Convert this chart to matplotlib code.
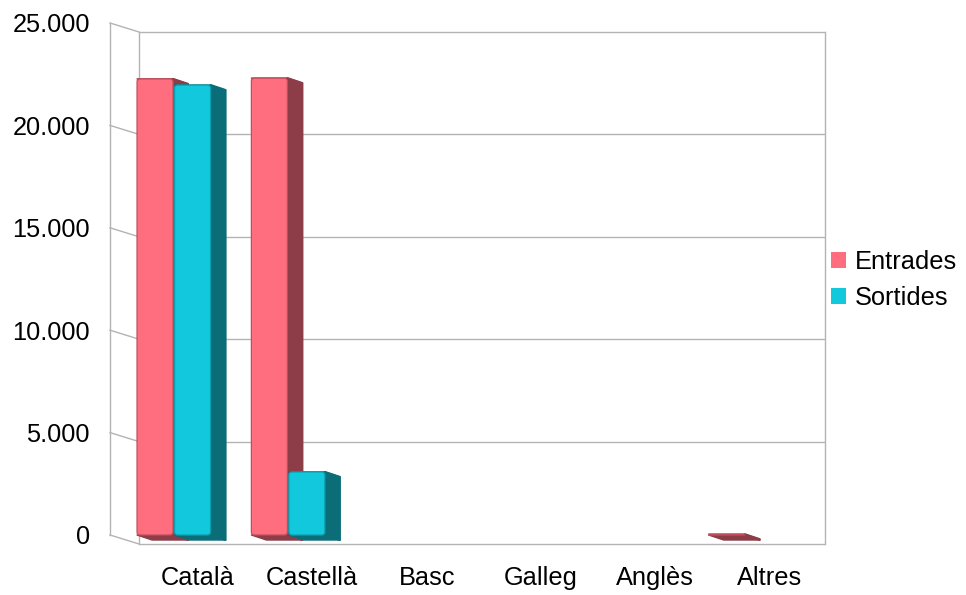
import numpy as np
import matplotlib
matplotlib.use("Agg")
import matplotlib.pyplot as plt
from matplotlib.patches import Polygon, Patch, FancyBboxPatch

plt.rcParams['font.family'] = ['Liberation Sans', 'DejaVu Sans']

categories = ["Català", "Castellà", "Basc", "Galleg", "Anglès", "Altres"]
entrades = [22270, 22310, 0, 0, 0, 40]
sortides = [21970, 3080, 0, 0, 0, 0]
series_names = ["Entrades", "Sortides"]
yticks = [0, 5000, 10000, 15000, 20000, 25000]
ytick_labels = ["0", "5.000", "10.000", "15.000", "20.000", "25.000"]

front_colors = ["#ff6e7e", "#12c8dc"]
side_colors = ["#8c3d48", "#0a6d78"]
edge_colors = ["#c24e5c", "#0b9fae"]

W, H = 966, 595
fig = plt.figure(figsize=(W / 100, H / 100), dpi=100)

# front plane of the pseudo-3D box, in pixels
left_px, right_px = 110, 796
top_px, bot_px = 23, 535
ax = fig.add_axes([left_px / W, 1 - bot_px / H,
                   (right_px - left_px) / W, (bot_px - top_px) / H])
x0, x1 = -0.56, 5.44
ax.set_xlim(x0, x1)
ax.set_ylim(0, 25000)
for sp in ax.spines.values():
    sp.set_visible(False)
ax.set_xticks([])
ax.set_yticks(yticks)
ax.set_yticklabels(ytick_labels)
ax.tick_params(axis='y', length=0, pad=14.4, labelsize=18.3)

px_x = (right_px - left_px) / (x1 - x0)
px_y = (bot_px - top_px) / 25000.0

# depth of the walls and of the bars (right and down)
bdx, bdy = 29 / px_x, -9 / px_y
ddx, ddy = 15 / px_x, -5 / px_y

grid_kw = dict(color="#b3b3b3", lw=1.0, clip_on=False, zorder=1)

# back wall with grid
ax.hlines([v + bdy for v in yticks], x0 + bdx, x1 + bdx, **grid_kw)
ax.plot([x0 + bdx, x0 + bdx], [bdy, 25000 + bdy], **grid_kw)
ax.plot([x1 + bdx, x1 + bdx], [bdy, 25000 + bdy], **grid_kw)
# left wall
ax.plot([x0, x0], [0, 25000], **grid_kw)
for v in yticks:
    ax.plot([x0, x0 + bdx], [v, v + bdy], **grid_kw)

# bars: bottom/top and side faces as polygons, front face rounded
x = np.arange(len(categories))
offsets = [-0.166, 0.162]
width = 0.315
radius = 3 / px_x
aspect = px_x / px_y
for s, vals in enumerate([entrades, sortides]):
    vals = np.array(vals, dtype=float)
    z = 3 + 3 * s
    for i, v in enumerate(vals):
        if v <= 0:
            continue
        xl = x[i] + offsets[s] - width / 2
        xr = xl + width
        for y in (0, v):
            face = Polygon([(xl, y), (xr, y), (xr + ddx, y + ddy), (xl + ddx, y + ddy)],
                           closed=True, fc=side_colors[s], ec=side_colors[s], lw=1.0,
                           joinstyle='round', zorder=z, clip_on=False)
            ax.add_patch(face)
        side = Polygon([(xr, 0), (xr, v), (xr + ddx, v + ddy), (xr + ddx, ddy)],
                       closed=True, fc=side_colors[s], ec=side_colors[s], lw=1.5,
                       joinstyle='round', zorder=z + 1, clip_on=False)
        ax.add_patch(side)
    mask = vals > 0
    bars = ax.bar(x[mask] + offsets[s], vals[mask], width, visible=False)
    for rect in bars:
        bx, by = rect.get_xy()
        rw, rh = rect.get_width(), rect.get_height()
        r = min(radius, rh * px_y / px_x / 2)
        face = FancyBboxPatch((bx, by), rw, rh,
                              boxstyle=f"round,pad=0,rounding_size={r}",
                              mutation_aspect=aspect, fc=front_colors[s],
                              ec=edge_colors[s], lw=0.9, zorder=z + 2,
                              clip_on=False)
        ax.add_patch(face)

# category labels under the floor
for i, name in enumerate(categories):
    ax.text(x[i] + 24 / px_x, -43 / px_y, name, ha='center', va='center',
            fontsize=18.3, clip_on=False)

handles = [Patch(facecolor=c, edgecolor='none') for c in front_colors]
fig.legend(handles, series_names, loc='center left',
           bbox_to_anchor=(831 / W, 1 - 280 / H), frameon=False, fontsize=18.3,
           handlelength=0.6, handleheight=0.6, handletextpad=0.35,
           labelspacing=0.45, borderpad=0, borderaxespad=0)

fig.savefig("out.png", dpi=100)
